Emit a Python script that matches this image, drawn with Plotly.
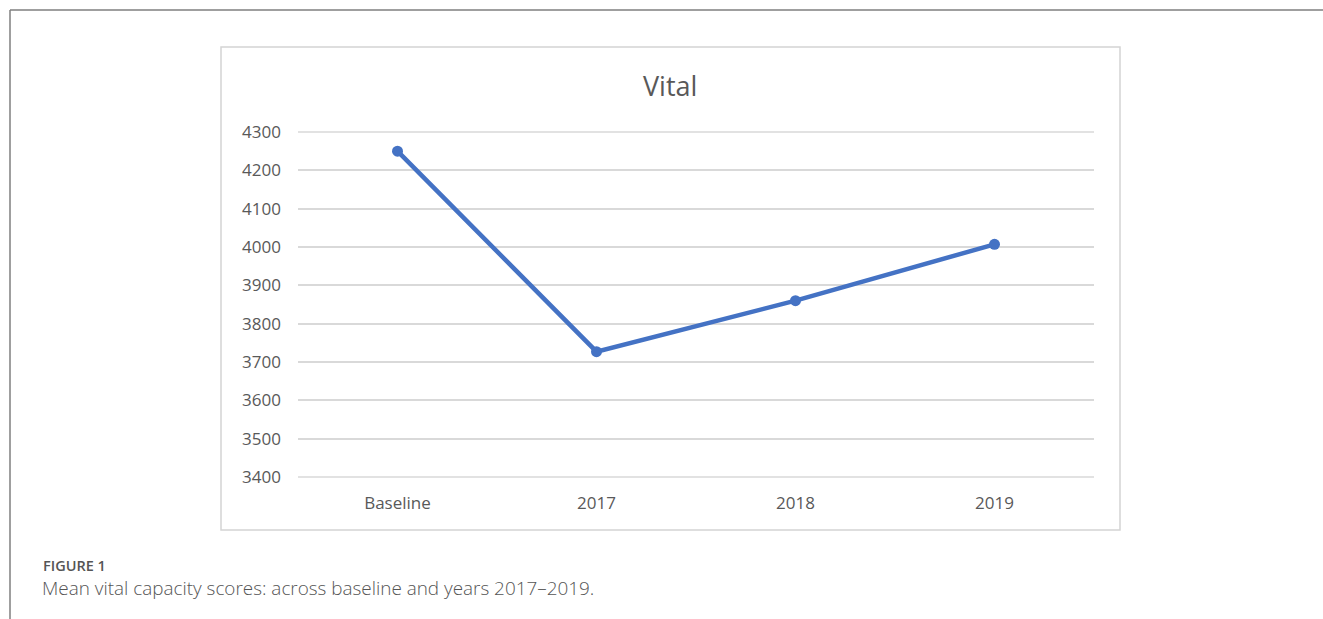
import plotly.graph_objects as go

categories = ["Baseline", "2017", "2018", "2019"]
values = [4250, 3727, 3860, 4007]
y_ticks = [3400, 3500, 3600, 3700, 3800, 3900, 4000, 4100, 4200, 4300]

W, H = 1323, 619
L, R, T, B = 298, 1094, 131, 478  # plot area in pixels
Y_MIN, Y_MAX = 3397.4, 4302.6


def px(x):
    return (x - L) / (R - L)


def py(y):
    return (B - y) / (B - T)


fig = go.Figure()
fig.add_trace(go.Scatter(
    x=categories, y=values, mode="lines+markers",
    line=dict(color="#4472C4", width=4.5),
    marker=dict(color="#4472C4", size=11),
    showlegend=False, hoverinfo="x+y",
))

grey = "#595959"
grid = "#d9d9d9"
edge_lines = [
    dict(type="line", xref="paper", yref="y", x0=0, x1=1, y0=v, y1=v,
         line=dict(color=grid, width=1.5), layer="below")
    for v in (y_ticks[0], y_ticks[-1])
]

fig.update_layout(
    width=W, height=H,
    margin=dict(l=L, r=W - R, t=T, b=H - B, pad=0),
    paper_bgcolor="white", plot_bgcolor="white",
    font=dict(family="Open Sans, sans-serif", color=grey),
    xaxis=dict(range=[-0.5, 3.5], showgrid=False, zeroline=False, showline=False,
               ticks="", tickfont=dict(size=17, color=grey, family="Open Sans"),
               ticklabelstandoff=13, fixedrange=True),
    yaxis=dict(range=[Y_MIN, Y_MAX], tickvals=y_ticks, showgrid=True,
               gridcolor=grid, gridwidth=1.5, zeroline=False, showline=False,
               ticks="", tickfont=dict(size=17, color=grey, family="Open Sans"),
               ticklabelstandoff=16, fixedrange=True),
    shapes=edge_lines + [
        # inner chart border
        dict(type="rect", xref="paper", yref="paper",
             x0=px(221), x1=px(1120), y0=py(530), y1=py(47),
             line=dict(color="#d4d4d4", width=1.5), fillcolor="rgba(0,0,0,0)", layer="below"),
        # outer frame top
        dict(type="line", xref="paper", yref="paper",
             x0=px(10), x1=px(1323), y0=py(10), y1=py(10),
             line=dict(color="#7f7f7f", width=1.5)),
        # outer frame left
        dict(type="line", xref="paper", yref="paper",
             x0=px(10), x1=px(10), y0=py(10), y1=py(619),
             line=dict(color="#7f7f7f", width=1.5)),
    ],
    annotations=[
        dict(text="Vital", xref="paper", yref="paper", x=px(670), y=py(86),
             xanchor="center", yanchor="middle", showarrow=False,
             font=dict(size=27, color=grey, family="Open Sans")),
        dict(text="FIGURE 1", xref="paper", yref="paper", x=px(41), y=py(565),
             xanchor="left", yanchor="middle", showarrow=False,
             font=dict(size=14.5, color="#555555", family="Open Sans", weight=600)),
        dict(text="Mean vital capacity scores: across baseline and years 2017\u20132019.",
             xref="paper", yref="paper", x=px(40), y=py(588),
             xanchor="left", yanchor="middle", showarrow=False,
             font=dict(size=18.9, color="#555555", family="Open Sans", weight=300)),
    ],
)

fig.write_html("out.html")
